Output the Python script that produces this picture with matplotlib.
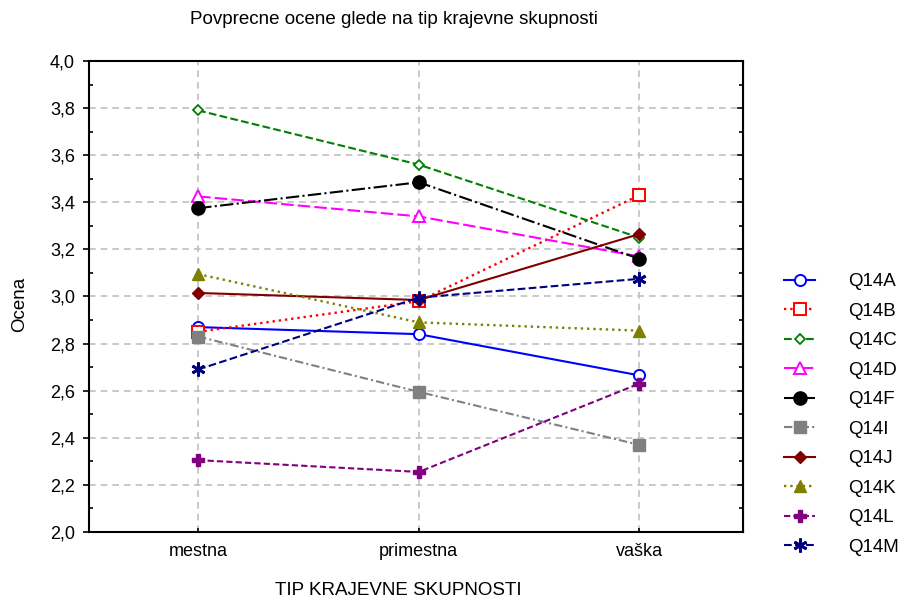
import matplotlib.pyplot as plt
from matplotlib.ticker import MultipleLocator, FuncFormatter

plt.rcParams['font.family'] = ['Liberation Sans', 'DejaVu Sans']
plt.rcParams['font.size'] = 13

categories = ['mestna', 'primestna', 'vaška']

q14a = [2.87, 2.84, 2.665]
q14b = [2.85, 2.98, 3.43]
q14c = [3.79, 3.56, 3.25]
q14d = [3.425, 3.34, 3.17]
q14f = [3.375, 3.485, 3.16]
q14i = [2.83, 2.595, 2.37]
q14j = [3.015, 2.985, 3.265]
q14k = [3.095, 2.89, 2.855]
q14l = [2.305, 2.255, 2.63]
q14m = [2.69, 2.995, 3.075]

x = list(range(len(categories)))

fig = plt.figure(figsize=(8.98, 5.98), dpi=100)
ax = fig.add_axes([0.0991, 0.1104, 0.7283, 0.7876])

ax.plot(x, q14a, '-', color='blue', lw=1.5, marker='o', ms=8, mfc='white', mec='blue', mew=1.4, label='Q14A')
ax.plot(x, q14b, ':', color='red', lw=1.7, marker='s', ms=8, mfc='white', mec='red', mew=1.4, label='Q14B')
ax.plot(x, q14c, '--', color='green', lw=1.5, marker='D', ms=5.5, mfc='white', mec='green', mew=1.3, label='Q14C')
ax.plot(x, q14d, '--', dashes=(6, 2), color='magenta', lw=1.5, marker='^', ms=8, mfc='white', mec='magenta', mew=1.4, label='Q14D')
ax.plot(x, q14f, '-.', color='black', lw=1.5, marker='o', ms=9.5, mfc='black', mec='black', label='Q14F')
ax.plot(x, q14i, '-.', color='gray', dashes=(4, 1.5, 1, 1.5), lw=1.5, marker='s', ms=9, mfc='gray', mec='gray', label='Q14I')
ax.plot(x, q14j, '-', color='#800000', lw=1.5, marker='D', ms=6.5, mfc='#800000', mec='#800000', label='Q14J')
ax.plot(x, q14k, ':', color='olive', lw=1.7, marker='^', ms=8, mfc='olive', mec='olive', label='Q14K')
ax.plot(x, q14l, '--', dashes=(3, 1.5), color='purple', lw=1.5, marker='P', ms=9, mfc='purple', mec='purple', label='Q14L')
ax.plot(x, q14m, '--', color='navy', lw=1.5, marker=(6, 2, 0), ms=10, mec='navy', mew=2, label='Q14M')

ax.set_xlim(-0.495, 2.47)
ax.set_ylim(2.0, 4.0)
ax.set_xticks(x)
ax.set_xticklabels(categories)
ax.yaxis.set_major_locator(MultipleLocator(0.2))
ax.yaxis.set_minor_locator(MultipleLocator(0.1))
ax.yaxis.set_major_formatter(FuncFormatter(lambda v, p: f'{v:.1f}'.replace('.', ',')))

ax.grid(True, which='major', color='#c0c0c0', linestyle='--', dashes=(4, 3), lw=1.2)
ax.set_axisbelow(True)
for s in ax.spines.values():
    s.set_linewidth(1.5)

ax.tick_params(axis='y', which='major', direction='out', length=4, width=1.2, left=True, right=False, pad=6, labelsize=13)
ax.tick_params(axis='y', which='minor', direction='in', length=3, width=1.2, left=True, right=True)
ax.tick_params(axis='x', which='major', direction='in', length=3, width=1.2, pad=8, labelsize=13)
ax2 = ax.secondary_yaxis('right')
ax2.yaxis.set_major_locator(MultipleLocator(0.2))
ax2.tick_params(axis='y', which='major', direction='in', length=4, width=1.2, labelright=False)

ax.legend(loc='upper left', bbox_to_anchor=(1.063, 0.55), frameon=False,
          handlelength=1.65, handletextpad=1.75, labelspacing=0.66, borderaxespad=0.0,
          borderpad=0.0, fontsize=13.5)

fig.text(0.439, 0.967, 'Povprecne ocene glede na tip krajevne skupnosti', ha='center', va='center', fontsize=13.5)
fig.text(0.443, 0.012, 'TIP KRAJEVNE SKUPNOSTI', ha='center', va='center', fontsize=13.5)
fig.text(0.022, 0.4916, 'Ocena', ha='center', va='center', rotation=90, fontsize=13.5)

fig.savefig('out.png', dpi=100)
